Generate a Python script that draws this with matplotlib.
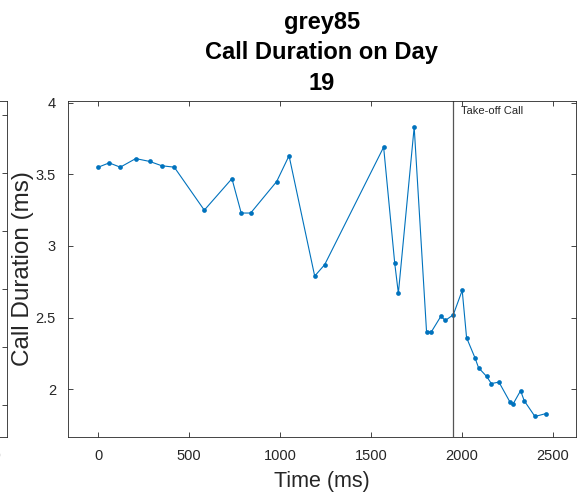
import matplotlib
matplotlib.use("Agg")
import matplotlib.pyplot as plt

# Call times (ms) and durations (ms) for day 19
time_ms = [0, 60, 121, 206, 283, 349, 418, 583, 735, 786, 838, 981,
           1049, 1190, 1245, 1569, 1630, 1650, 1737, 1805, 1831, 1884,
           1908, 1952, 2001, 2025, 2071, 2091, 2135, 2161, 2203, 2264,
           2282, 2322, 2342, 2401, 2460]
duration_ms = [3.55, 3.58, 3.55, 3.61, 3.59, 3.56, 3.55, 3.25, 3.47, 3.23,
               3.23, 3.45, 3.63, 2.79, 2.87, 3.69, 2.88, 2.67, 3.83, 2.40,
               2.40, 2.51, 2.48, 2.52, 2.69, 2.36, 2.22, 2.15, 2.09, 2.04,
               2.05, 1.91, 1.90, 1.99, 1.92, 1.81, 1.83]
takeoff_ms = 1952
x_ticks = [0, 500, 1000, 1500, 2000, 2500]
y_ticks = [2, 2.5, 3, 3.5, 4]
y_tick_labels = ["2", "2.5", "3", "3.5", "4"]

plt.rcParams["font.family"] = ["Liberation Sans", "DejaVu Sans"]

W, H = 584, 497
fig = plt.figure(figsize=(W / 100, H / 100), dpi=100)

axc = "#262626"
blue = "#0072BD"

def style(ax):
    for s in ax.spines.values():
        s.set_color(axc)
        s.set_linewidth(0.6)
    ax.tick_params(direction="in", length=3.6, width=0.6, colors=axc,
                   top=True, right=True, labelsize=10.5, pad=8.5)

# neighbouring panel, only its right edge is in view
left_px, right_px, top_px, bot_px = 67.7, 575.7, 100.7, 436.7
wpx = right_px - left_px
axl = fig.add_axes([(7.3 - wpx) / W, 1 - bot_px / H, wpx / W, (bot_px - top_px) / H])
style(axl)
axl.set_xlim(-168, 2625)
axl.set_xticks(x_ticks)
axl.set_xticklabels([""] * (len(x_ticks) - 1) + [str(x_ticks[-1])])
axl.set_ylim(0, bot_px - top_px)
axl.set_yticks([bot_px - p for p in (115, 173, 231, 289, 347, 405)])
axl.set_yticklabels([])

# main panel
ax = fig.add_axes([left_px / W, 1 - bot_px / H, wpx / W, (bot_px - top_px) / H])
style(ax)
ax.plot(time_ms, duration_ms, color=blue, linewidth=0.8, marker="o",
        markersize=3.4, markeredgewidth=0)
ax.axvline(takeoff_ms, color="#555555", linewidth=0.9)
ax.text(takeoff_ms + 45, 3.944, "Take-off Call", fontsize=8, color=axc,
        va="center", ha="left")
ax.set_xlim(-168, 2625)
ax.set_ylim(1.669, 4.014)
ax.set_xticks(x_ticks)
ax.set_yticks(y_ticks)
ax.set_yticklabels(y_tick_labels)
ax.set_xlabel("Time (ms)", fontsize=15.5, color=axc, labelpad=6)
ax.set_ylabel("Call Duration (ms)", fontsize=17.5, color=axc, labelpad=1)
ax.set_title("grey85\nCall Duration on Day\n19", fontsize=17,
             fontweight="bold", color="black", linespacing=1.4, pad=8)

fig.savefig("out.png", dpi=100)
